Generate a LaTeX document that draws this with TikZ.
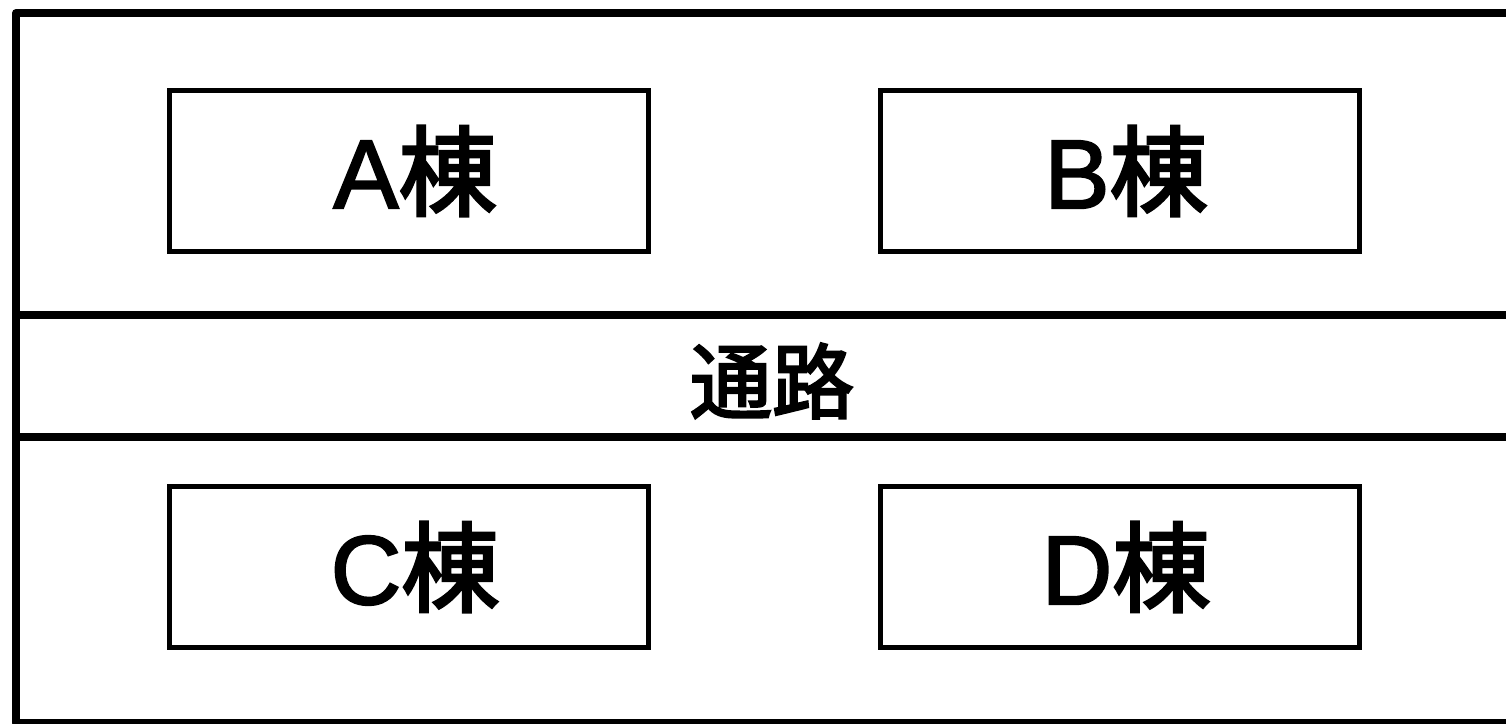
\documentclass[tikz,border=0pt]{standalone}
\usepackage{fontspec}
\newfontfamily\cjk{Noto Sans CJK JP}[FakeBold=3,AutoFakeBold=3]
\newfontfamily\lat{Liberation Sans}[AutoFakeBold=2]
\begin{document}
\begin{tikzpicture}[x=1pt,y=-1pt,
  bldg/.style={draw=black,line width=5pt,minimum width=479pt,minimum height=161pt,inner sep=0pt,font=\fontsize{98pt}{110pt}\selectfont\bfseries},
  frame/.style={draw=black,line width=8pt}]
\useasboundingbox (0,0) rectangle (1506,723);
\clip (0,0) rectangle (1506,723);
\fill[white] (0,0) rectangle (1506,723);
\draw[frame,line join=round] (1530,13) -- (16,13) -- (16,723) -- (1530,723);
\coordinate (r1L) at (16,315);
\coordinate (r1R) at (1530,315);
\coordinate (r2L) at (16,436.5);
\coordinate (r2R) at (1530,436.5);
\draw[frame] (r1L) -- (r1R);
\draw[frame] (r2L) -- (r2R);
\node[bldg] (A) at (409,171) {\hspace{12pt}\raisebox{-0.06em}{\lat A\cjk 棟}};
\node[bldg] (B) at (1120,171) {\hspace{12pt}\raisebox{-0.06em}{\lat B\cjk 棟}};
\node[bldg] (C) at (409,567) {\hspace{12pt}\raisebox{-0.06em}{\lat C\cjk 棟}};
\node[bldg] (D) at (1120,567) {\hspace{12pt}\raisebox{-0.06em}{\lat D\cjk 棟}};
\node[inner sep=0pt,font=\cjk\bfseries\fontsize{82pt}{90pt}\selectfont] (road) at (772,381) {通路};
\end{tikzpicture}
\end{document}
